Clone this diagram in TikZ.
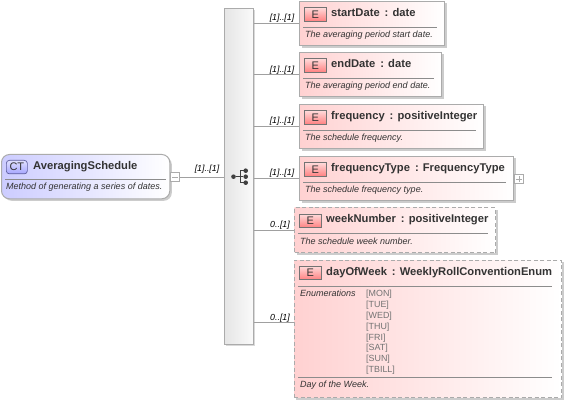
\documentclass[tikz,border=0pt]{standalone}
\usepackage{fontspec}
\setmainfont{Liberation Sans}
\usetikzlibrary{shadows}
\definecolor{edgegray}{HTML}{ABABAB}
\definecolor{linegray}{HTML}{A0A0A0}
\definecolor{txt}{HTML}{333333}
\tikzset{
  x=1pt,y=-1pt,
  boxbase/.style={draw=edgegray,line width=1pt,anchor=north west,inner sep=0pt,
    left color=#1,middle color=#1!38!white,right color=white,
    drop shadow={shadow xshift=2pt,shadow yshift=-2pt,opacity=.2,fill=black}},
  reqbox/.style={boxbase=red!18!white},
  optbox/.style={boxbase=red!18!white,dash pattern=on 4pt off 2.5pt},
  ctbox/.style={boxbase=blue!20!white,rounded corners=8pt},
  seqbar/.style={draw=edgegray,line width=1pt,anchor=north west,inner sep=0pt,
    left color=white!90!black,right color=white!98!black,
    drop shadow={shadow xshift=1.5pt,shadow yshift=-1.5pt,opacity=.15,fill=black}},
  conn/.style={draw=linegray,line width=.7pt},
  sep/.style={draw=gray!90!white,line width=.7pt},
  title/.style={anchor=base west,inner sep=0pt,font=\bfseries\fontsize{11.2}{12}\selectfont,text=txt},
  desc/.style={anchor=base west,inner sep=0pt,font=\itshape\fontsize{9}{10}\selectfont,text=txt},
  mult/.style={anchor=base,inner sep=0pt,font=\itshape\fontsize{8.8}{10}\selectfont,text=black},
  enumv/.style={anchor=base west,inner sep=0pt,font=\fontsize{8.9}{10}\selectfont,text=gray!90!black},
  eicon/.style={draw=gray!90!black,line width=.7pt,anchor=north west,inner sep=0pt,
    minimum width=22pt,minimum height=13.5pt,top color=red!15!white,bottom color=red!50!white,
    font=\fontsize{11}{12}\selectfont,text=txt},
  cticon/.style={draw=blue!25!gray,line width=.7pt,anchor=north west,inner sep=0pt,rounded corners=3pt,
    minimum width=21pt,minimum height=13.5pt,top color=blue!12!white,bottom color=blue!35!white,
    font=\fontsize{11}{12}\selectfont,text=txt},
  toggle/.style={draw=edgegray,line width=.6pt,fill=white,anchor=north west,inner sep=0pt,
    minimum width=9pt,minimum height=9pt},
  dot/.style={circle,fill=black!75,inner sep=0pt,minimum size=4.6pt},
  wire/.style={draw=black!75,line width=.8pt},
}
% name, x, y, width, height, style, title, separator end x, description
\newcommand{\elembox}[9]{%
  \node[#6,minimum width=#4pt,minimum height=#5pt] (#1) at (#2,#3) {};
  \node[eicon] (#1icon) at (#2+5,#3+6.5) {E};
  \node[title] (#1title) at (#2+32,#3+15.5) {#7};
  \draw[sep] (#2+4,#3+26) -- (#8,#3+26);
  \node[desc] (#1desc) at (#2+6,#3+37) {#9};
}
\begin{document}
\begin{tikzpicture}
\useasboundingbox (0,0) rectangle (565,403);
% sequence bar
\node[seqbar,minimum width=29.3pt,minimum height=336.3pt] (bar) at (224,8) {};
% complex type
\node[ctbox,minimum width=168.3pt,minimum height=44.3pt] (ct) at (1,154) {};
\node[cticon] (cticon) at (6,160) {CT};
\node[title] (cttitle) at (33,169.5) {AveragingSchedule};
\draw[sep] (5,179) -- (166,179);
\node[desc] (ctdesc) at (6,190) {Method of generating a series of dates.};
\node[toggle] (minus) at (170,172.5) {};
\draw[draw=edgegray,line width=.6pt] ([xshift=2pt]minus.west) -- ([xshift=-2pt]minus.east);
\coordinate (barin) at (bar.west |- minus.east);
\draw[conn] (minus.east) -- (barin);
\node[mult] (mct) at (207,172) {[1]..[1]};
% sequence icon
\coordinate (barout) at (bar.east |- minus.east);
\node[dot] (s0) at (233.5,176.7) {};
\node[dot] (s1) at (245.7,170.7) {};
\node[dot] (s2) at (245.7,176.7) {};
\node[dot] (s3) at (245.7,182.7) {};
\draw[wire] (s0) -- (s2);
\draw[wire] (s1.center) -| (240,182.7) -- (s3.center);
% elements
\elembox{start}{299}{1}{145.3}{44.3}{reqbox}{startDate\, : date}{437}{The averaging period start date.}
\elembox{end}{299}{52}{142.3}{44.3}{reqbox}{endDate\, : date}{434}{The averaging period end date.}
\elembox{freq}{299}{104}{184.3}{44.3}{reqbox}{frequency\, : positiveInteger}{476}{The schedule frequency.}
\elembox{ftype}{299}{156}{214.3}{44.3}{reqbox}{frequencyType\, : FrequencyType}{506}{The schedule frequency type.}
\elembox{week}{294}{207.5}{201.3}{44.8}{optbox}{weekNumber\, : positiveInteger}{488}{The schedule week number.}
% dayOfWeek
\node[optbox,minimum width=267.8pt,minimum height=137.3pt] (day) at (293.5,260) {};
\node[eicon] (dayicon) at (299,266) {E};
\node[title] (daytitle) at (326,275.5) {dayOfWeek\, : WeeklyRollConventionEnum};
\draw[sep] (298,286.5) -- (552,286.5);
\node[desc] (enumlabel) at (300,297) {Enumerations};
\node[enumv] (e1) at (366,296.8) {[MON]};
\node[enumv] (e2) at (366,307.6) {[TUE]};
\node[enumv] (e3) at (366,318.5) {[WED]};
\node[enumv] (e4) at (366,329.3) {[THU]};
\node[enumv] (e5) at (366,340.2) {[FRI]};
\node[enumv] (e6) at (366,351) {[SAT]};
\node[enumv] (e7) at (366,361.8) {[SUN]};
\node[enumv] (e8) at (366,372.7) {[TBILL]};
\draw[sep] (298,377.5) -- (552,377.5);
\node[desc] (daydesc) at (300,388) {Day of the Week.};
% plus toggle
\node[toggle] (plus) at (514,174.5) {};
\draw[draw=edgegray,line width=.6pt] ([xshift=2pt]plus.west) -- ([xshift=-2pt]plus.east);
\draw[draw=edgegray,line width=.6pt] ([yshift=2pt]plus.south) -- ([yshift=-2pt]plus.north);
% connectors
\foreach \n/\y/\m/\mx in {start/23/{[1]..[1]}/282, end/74.5/{[1]..[1]}/282, freq/126/{[1]..[1]}/282, ftype/178/{[1]..[1]}/282, week/230/{0..[1]}/280, day/322/{0..[1]}/280}{
  \coordinate (out\n) at (bar.east |- 0,\y);
  \draw[conn] (out\n) -- (\n.west |- out\n);
  \node[mult] (m\n) at (\mx,\y-2) {\m};
}
\end{tikzpicture}
\end{document}
